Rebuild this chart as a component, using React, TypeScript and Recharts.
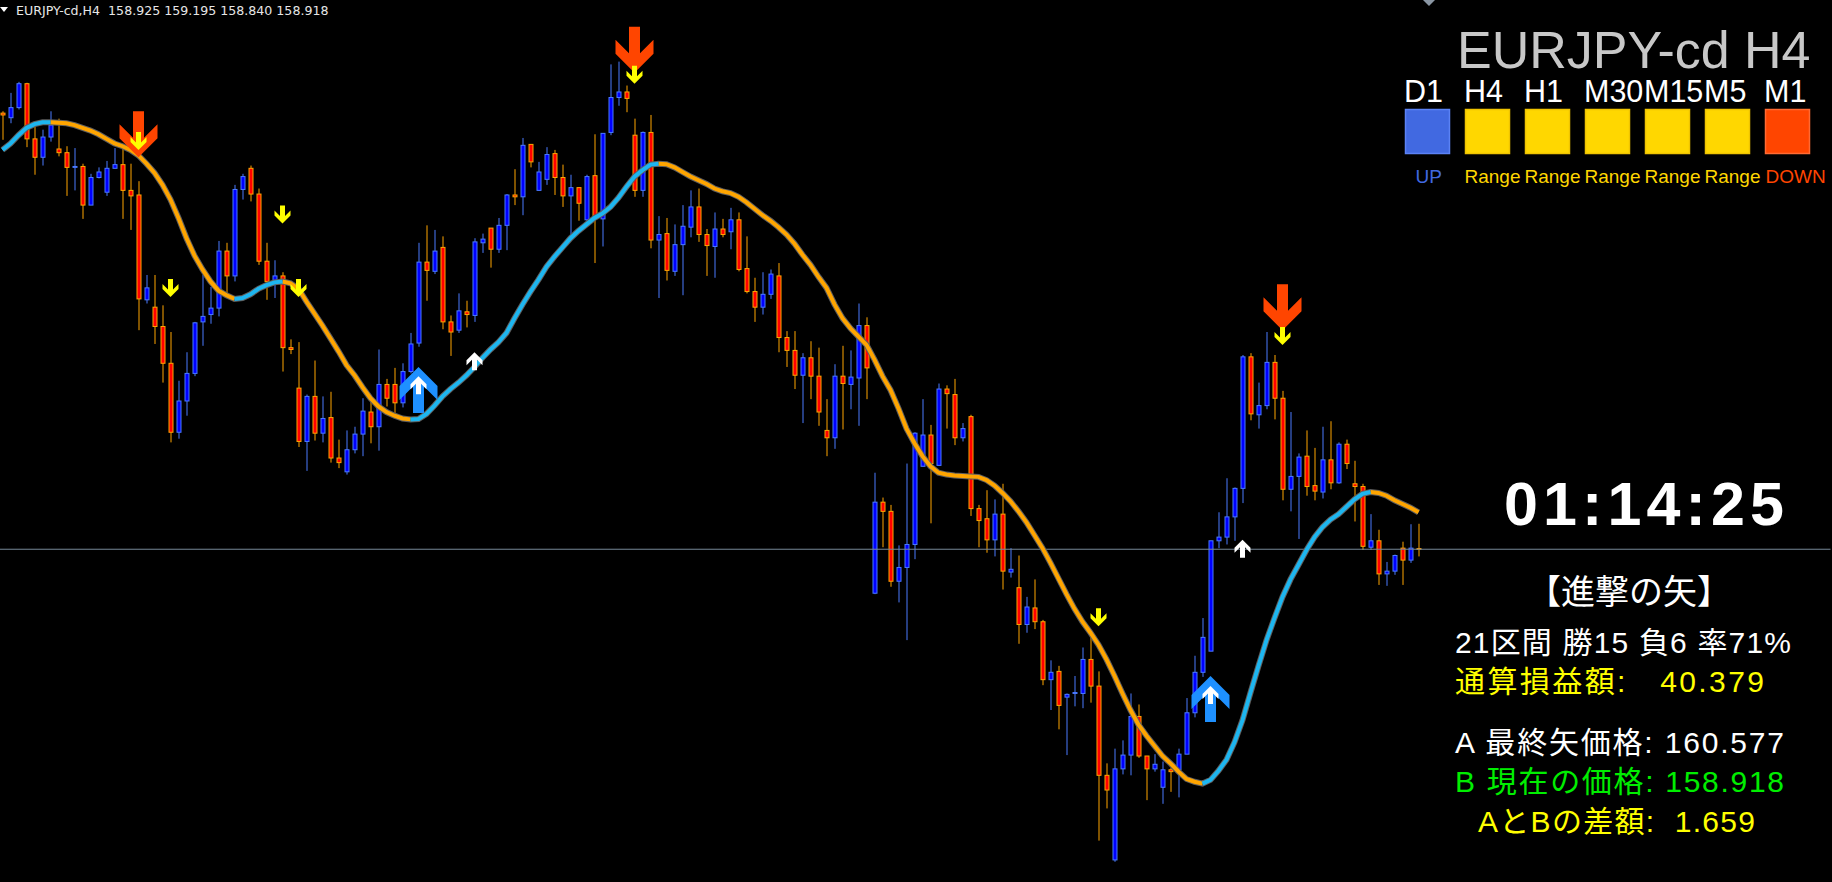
import React from 'react';
import { ComposedChart, Bar, Line, XAxis, YAxis, ReferenceLine } from 'recharts';

const W = 1832;
const H = 882;
const Y_MIN = 155.3;
const Y_MAX = 164.89;
const LAST_PRICE = 158.918;
const SLOT_COUNT = 229;

const opens = [
  163.66, 163.61, 163.72, 163.98, 163.38, 163.18, 163.40, 163.27, 163.23, 163.07,
  163.08, 162.66, 162.96, 162.80, 163.06, 163.10, 162.82, 162.77, 161.63, 161.55,
  161.34, 160.94, 160.19, 160.53, 160.83, 161.39, 161.47, 161.54, 162.16, 161.89,
  162.83, 163.06, 162.78, 162.05, 161.83, 161.89, 161.11, 160.67, 160.09, 160.58,
  160.18, 160.35, 159.91, 159.76, 160.00, 160.17, 160.41, 160.25, 160.71, 160.71,
  160.51, 160.85, 161.16, 162.04, 161.94, 162.20, 161.39, 161.30, 161.50, 161.46,
  162.25, 162.41, 162.18, 162.44, 162.77, 162.75, 163.32, 162.82, 162.94, 163.22,
  162.96, 162.76, 162.85, 162.50, 162.98, 162.51, 163.45, 163.83, 163.89, 163.42,
  162.82, 163.45, 162.28, 162.35, 161.94, 162.23, 162.42, 162.64, 162.34, 162.21,
  162.40, 162.37, 162.50, 161.97, 161.72, 161.55, 161.69, 161.89, 161.22, 161.08,
  160.81, 161.00, 160.80, 160.21, 160.13, 160.80, 160.71, 160.78, 161.35, 158.44,
  159.43, 159.33, 158.57, 158.72, 158.97, 159.82, 160.16, 159.83, 160.66, 160.60,
  160.13, 160.36, 159.36, 159.25, 159.02, 159.30, 158.67, 158.50, 158.10, 158.28,
  158.13, 157.50, 157.59, 157.31, 157.35, 157.35, 157.72, 157.43, 156.46, 155.54,
  156.53, 156.68, 157.10, 156.67, 156.53, 156.33, 156.52, 156.52, 156.69, 157.14,
  157.58, 157.81, 159.01, 159.05, 159.27, 159.58, 161.01, 160.38, 160.48, 160.95,
  160.56, 159.57, 159.71, 159.93, 159.61, 159.54, 159.89, 159.64, 160.06, 159.63,
  159.60, 158.94, 159.01, 158.65, 158.68, 158.93, 158.80, 158.925,
];

const highs = [
  163.68, 163.88, 164.00, 163.99, 163.56, 163.48, 163.68, 163.60, 163.30, 163.28,
  163.11, 163.00, 163.07, 163.14, 163.28, 163.28, 163.11, 162.92, 161.90, 161.90,
  161.57, 161.28, 160.75, 161.06, 161.39, 161.90, 161.77, 162.27, 162.25, 162.88,
  163.00, 163.09, 162.84, 162.25, 162.06, 161.93, 161.20, 161.17, 160.60, 160.97,
  160.58, 160.63, 160.11, 160.21, 160.25, 160.56, 160.53, 161.09, 160.77, 160.89,
  160.94, 161.27, 162.25, 162.44, 162.39, 162.32, 161.46, 161.70, 161.62, 162.30,
  162.35, 162.41, 162.52, 162.78, 163.05, 163.39, 163.32, 163.13, 163.29, 163.26,
  163.10, 162.99, 162.85, 162.99, 163.43, 163.44, 164.19, 164.22, 163.96, 163.60,
  163.46, 163.64, 162.54, 162.52, 162.45, 162.66, 162.82, 162.84, 162.40, 162.58,
  162.51, 162.63, 162.58, 162.32, 161.87, 161.93, 161.96, 162.03, 161.29, 161.29,
  161.05, 161.18, 161.11, 160.55, 160.93, 161.13, 161.08, 161.59, 161.44, 159.75,
  159.48, 159.40, 158.96, 159.85, 160.19, 160.55, 160.27, 160.72, 160.70, 160.77,
  160.29, 160.38, 159.40, 159.56, 159.46, 159.63, 158.93, 158.85, 158.40, 158.59,
  158.15, 157.71, 157.65, 157.35, 157.54, 157.85, 157.97, 157.59, 156.59, 156.75,
  156.84, 157.35, 157.23, 156.67, 156.69, 156.61, 156.54, 156.75, 157.30, 157.76,
  158.17, 159.01, 159.32, 159.69, 159.59, 161.03, 161.05, 160.73, 161.28, 161.03,
  160.64, 160.41, 159.96, 160.21, 160.02, 160.25, 160.31, 160.08, 160.11, 159.88,
  159.63, 159.30, 159.13, 158.78, 158.86, 159.00, 159.19, 159.195,
];

const lows = [
  163.37, 163.55, 163.70, 163.29, 162.99, 163.09, 163.35, 163.19, 162.76, 162.82,
  162.51, 162.66, 162.95, 162.76, 163.06, 162.51, 162.39, 161.30, 161.59, 161.15,
  160.73, 160.08, 160.12, 160.37, 160.80, 161.13, 161.37, 161.45, 161.70, 161.83,
  162.72, 162.70, 162.01, 161.63, 161.65, 160.85, 161.04, 160.03, 159.77, 160.10,
  160.08, 159.86, 159.80, 159.73, 159.96, 159.93, 160.07, 159.99, 160.47, 160.40,
  160.46, 160.83, 161.12, 161.62, 161.91, 161.31, 161.02, 161.27, 161.33, 161.39,
  162.14, 161.98, 162.14, 162.17, 162.66, 162.55, 163.07, 162.82, 162.88, 162.77,
  162.64, 162.34, 162.49, 162.48, 162.03, 162.21, 163.42, 163.74, 163.67, 162.75,
  162.75, 162.19, 161.65, 161.84, 161.89, 161.68, 162.31, 162.26, 161.89, 161.87,
  162.31, 162.18, 161.94, 161.70, 161.39, 161.47, 161.64, 161.06, 160.90, 160.66,
  160.29, 160.55, 160.26, 159.93, 160.01, 160.22, 160.44, 160.26, 160.55, 158.43,
  158.94, 158.51, 158.34, 157.93, 158.81, 159.82, 159.20, 159.83, 160.23, 160.05,
  160.09, 159.28, 158.94, 158.88, 158.84, 158.48, 158.61, 157.89, 158.01, 158.05,
  157.44, 157.17, 156.96, 156.68, 157.21, 157.19, 157.25, 155.75, 156.10, 155.52,
  156.47, 156.46, 156.65, 156.19, 156.50, 156.15, 156.28, 156.22, 156.69, 157.09,
  157.53, 157.81, 158.93, 158.97, 159.01, 159.42, 160.32, 160.23, 160.44, 160.33,
  159.45, 159.33, 159.03, 159.50, 159.45, 159.47, 159.57, 159.63, 159.79, 159.22,
  158.91, 158.91, 158.53, 158.52, 158.64, 158.53, 158.77, 158.84,
];

const closes = [
  163.64, 163.72, 163.98, 163.38, 163.18, 163.40, 163.53, 163.23, 163.07, 163.08,
  162.66, 162.96, 163.02, 163.06, 163.10, 162.82, 162.76, 161.64, 161.76, 161.34,
  160.94, 160.19, 160.53, 160.83, 161.38, 161.45, 161.54, 162.16, 161.89, 162.83,
  162.97, 162.78, 162.05, 161.83, 161.89, 161.11, 161.09, 160.09, 160.58, 160.18,
  160.34, 159.91, 159.86, 160.00, 160.17, 160.42, 160.25, 160.71, 160.56, 160.51,
  160.85, 161.15, 162.04, 161.95, 162.16, 161.39, 161.28, 161.51, 161.47, 162.26,
  162.29, 162.18, 162.44, 162.77, 162.75, 163.31, 163.13, 163.02, 163.21, 162.96,
  162.76, 162.85, 162.68, 162.97, 162.53, 163.44, 163.83, 163.89, 163.82, 162.82,
  163.45, 162.28, 162.34, 161.95, 162.23, 162.43, 162.64, 162.34, 162.22, 162.40,
  162.34, 162.50, 161.96, 161.72, 161.55, 161.69, 161.91, 161.22, 161.08, 160.81,
  161.00, 160.80, 160.41, 160.13, 160.80, 160.72, 160.79, 161.35, 160.89, 159.43,
  159.33, 158.57, 158.72, 158.97, 160.18, 160.16, 159.85, 160.66, 160.61, 160.13,
  160.23, 159.36, 159.23, 159.02, 159.30, 158.68, 158.70, 158.10, 158.29, 158.13,
  157.50, 157.58, 157.22, 157.34, 157.36, 157.72, 157.43, 156.46, 156.30, 156.53,
  156.68, 157.10, 156.67, 156.53, 156.58, 156.52, 156.50, 156.69, 157.14, 157.58,
  157.96, 159.01, 159.05, 159.27, 159.58, 161.01, 160.39, 160.48, 160.95, 160.56,
  159.57, 159.71, 159.92, 159.60, 159.55, 159.89, 159.64, 160.06, 159.85, 159.60,
  158.95, 159.01, 158.65, 158.68, 158.85, 158.80, 158.93, 158.918,
];

const maLine = [
  163.26, 163.33, 163.42, 163.50, 163.54, 163.56, 163.56, 163.555, 163.55, 163.53,
  163.50, 163.47, 163.43, 163.38, 163.33, 163.30, 163.26, 163.20, 163.11, 163.01,
  162.88, 162.72, 162.52, 162.30, 162.11, 161.96, 161.83, 161.73, 161.68, 161.64,
  161.65, 161.69, 161.75, 161.79, 161.82, 161.83, 161.81, 161.75, 161.61, 161.48,
  161.35, 161.21, 161.07, 160.92, 160.81, 160.68, 160.56, 160.47, 160.41, 160.37,
  160.34, 160.33, 160.335, 160.39, 160.48, 160.58, 160.66, 160.73, 160.81, 160.90,
  161.00, 161.09, 161.17, 161.27, 161.43, 161.58, 161.72, 161.85, 161.99, 162.10,
  162.20, 162.30, 162.38, 162.45, 162.52, 162.57, 162.64, 162.74, 162.86, 162.97,
  163.04, 163.10, 163.11, 163.105, 163.07, 163.02, 162.97, 162.93, 162.89, 162.84,
  162.81, 162.79, 162.75, 162.69, 162.62, 162.55, 162.49, 162.42, 162.34, 162.24,
  162.12, 162.01, 161.88, 161.76, 161.58, 161.43, 161.32, 161.23, 161.14, 160.98,
  160.80, 160.65, 160.45, 160.23, 160.07, 159.93, 159.82, 159.75, 159.73, 159.72,
  159.715, 159.71, 159.705, 159.67, 159.61, 159.53, 159.44, 159.33, 159.21, 159.07,
  158.93, 158.77, 158.60, 158.43, 158.27, 158.13, 158.01, 157.88, 157.72, 157.54,
  157.35, 157.17, 157.01, 156.89, 156.78, 156.67, 156.59, 156.50, 156.42, 156.39,
  156.37, 156.41, 156.51, 156.63, 156.82, 157.06, 157.36, 157.65, 157.93, 158.17,
  158.40, 158.59, 158.75, 158.91, 159.05, 159.16, 159.24, 159.30, 159.38, 159.46,
  159.52, 159.54, 159.53, 159.50, 159.45, 159.41, 159.37, 159.32,
];

const bigDownIdx = [17, 79, 160];
const bigDownTip = [163.18, 164.1, 161.3];
const yellowDownIdx = [17, 21, 35, 37, 79, 137, 160];
const yellowDownTip = [163.26, 161.66, 162.46, 161.66, 163.98, 158.08, 161.14];
const bigUpIdx = [52, 151];
const bigUpTip = [160.9, 157.54];
const whiteUpIdx = [52, 59, 151, 155];
const whiteUpTip = [160.8, 161.06, 157.43, 159.02];

const tfLabels = ['D1', 'H4', 'H1', 'M30', 'M15', 'M5', 'M1'];
const tfStatus = ['UP', 'Range', 'Range', 'Range', 'Range', 'Range', 'DOWN'];

// trend direction of the moving line (1 rising, -1 falling)
const dirs: number[] = [];
maLine.forEach((v, i) => {
  if (i === 0) { dirs.push(0); return; }
  const prev = maLine[i - 1];
  if (v > prev) dirs.push(1);
  else if (v < prev) dirs.push(-1);
  else dirs.push(dirs[i - 1]);
});
dirs[0] = dirs[1];

const pick = (idx: number[], vals: number[], i: number) => {
  const k = idx.indexOf(i);
  return k >= 0 ? vals[k] : null;
};

const rows = Array.from({ length: SLOT_COUNT }, (_, i) => {
  const has = i < opens.length;
  return {
    slot: i,
    o: has ? opens[i] : null,
    h: has ? highs[i] : null,
    l: has ? lows[i] : null,
    c: has ? closes[i] : null,
    ma: has ? maLine[i] : null,
    maUp: has && (dirs[i] === 1 || dirs[i + 1] === 1) ? maLine[i] : null,
    maDown: has && (dirs[i] === -1 || dirs[i + 1] === -1) ? maLine[i] : null,
    bigDown: pick(bigDownIdx, bigDownTip, i),
    yellowDown: pick(yellowDownIdx, yellowDownTip, i),
    bigUp: pick(bigUpIdx, bigUpTip, i),
    whiteUp: pick(whiteUpIdx, whiteUpTip, i),
  };
});

const renderCandle = (props: any) => {
  const p = props.payload ?? rows[props.index];
  if (!p || p.o == null) return <g />;
  const { o, h, l, c } = p;
  const y0 = Number(props.y);
  const hh = Number(props.height);
  const top = Math.min(y0, y0 + hh);
  const bot = Math.max(y0, y0 + hh);
  const span = h - l;
  const toY = (v: number) => (span > 0 ? top + ((h - v) / span) * (bot - top) : top);
  const cx = Number(props.x) + Number(props.width) / 2;
  const up = c >= o;
  const yo = toY(o);
  const yc = toY(c);
  const bt = Math.min(yo, yc);
  const bb = Math.max(yo, yc);
  const edge = up ? '#4a7aff' : '#FFA500';
  const fill = up ? '#0000FF' : '#FF0000';
  return (
    <g>
      <line x1={cx} x2={cx} y1={top} y2={bot} stroke={edge} strokeWidth={1} />
      <rect x={cx - 2} y={bt} width={4} height={Math.max(bb - bt, 0.6)} fill={fill} stroke={edge} strokeWidth={1} />
    </g>
  );
};

const arrowPts = (big: boolean, down: boolean) => {
  const s = down ? -1 : 1;
  const pts = big
    ? [[-5.5, 46], [5.5, 46], [5.5, 19.5], [19, 33], [19, 19], [0, 0], [-19, 19], [-19, 33], [-5.5, 19.5]]
    : [[-2.5, 18], [2.5, 18], [2.5, 7.5], [8, 13], [8, 8], [0, 0], [-8, 8], [-8, 13], [-2.5, 7.5]];
  return pts.map(([x, y]) => [x, y * s]);
};

const makeArrow = (big: boolean, down: boolean, color: string, name: string) => (props: any) => {
  const { cx, cy, value, index } = props;
  if (value == null || cx == null || cy == null || isNaN(cy)) return <g key={`${name}-${index}`} />;
  const pts = arrowPts(big, down).map(([x, y]) => `${cx + x},${cy + y}`).join(' ');
  return <polygon key={`${name}-${index}`} points={pts} fill={color} />;
};

const dotBigDown = makeArrow(true, true, '#FF4500', 'bd');
const dotYellow = makeArrow(false, true, '#FFFF00', 'yd');
const dotBigUp = makeArrow(true, false, '#1E90FF', 'bu');
const dotWhite = makeArrow(false, false, '#FFFFFF', 'wu');

const jpFont = "'Liberation Sans', 'Noto Sans CJK JP', sans-serif";

export default function App() {
  return (
    <div style={{ position: 'absolute', left: 0, top: 0, width: W, height: H, background: '#000', overflow: 'hidden' }}>
      <ComposedChart width={W} height={H} data={rows} margin={{ top: 0, right: 1.5, bottom: 0, left: -1.5 }}>
        <XAxis dataKey="slot" type="category" hide />
        <YAxis type="number" domain={[Y_MIN, Y_MAX]} hide allowDataOverflow />
        <ReferenceLine y={LAST_PRICE} stroke="#778899" strokeWidth={1} />
        <Bar dataKey={(d: any) => (d.h == null ? null : [d.l, d.h])} barSize={5} shape={renderCandle} isAnimationActive={false} />
        <Line dataKey="ma" type="linear" stroke="#5e5e5e" strokeWidth={6} dot={false} activeDot={false} isAnimationActive={false} />
        <Line dataKey="maDown" type="linear" stroke="#FFA500" strokeWidth={4} dot={false} activeDot={false} isAnimationActive={false} />
        <Line dataKey="maUp" type="linear" stroke="#1DB6F0" strokeWidth={4} dot={false} activeDot={false} isAnimationActive={false} />
        <Line dataKey="bigDown" stroke="none" dot={dotBigDown} activeDot={false} isAnimationActive={false} />
        <Line dataKey="bigUp" stroke="none" dot={dotBigUp} activeDot={false} isAnimationActive={false} />
        <Line dataKey="yellowDown" stroke="none" dot={dotYellow} activeDot={false} isAnimationActive={false} />
        <Line dataKey="whiteUp" stroke="none" dot={dotWhite} activeDot={false} isAnimationActive={false} />
      </ComposedChart>
      <svg width={W} height={H} style={{ position: 'absolute', left: 0, top: 0, pointerEvents: 'none' }}>
        <polygon points="0,7 8,7 4,12" fill="#ffffff" />
        <text x={16} y={15} fontFamily="'DejaVu Sans', sans-serif" fontSize={12.6} fill="#e6e6e6" style={{ whiteSpace: 'pre' }}>
          {'EURJPY-cd,H4  158.925 159.195 158.840 158.918'}
        </text>
        <polygon points="1423,0 1435,0 1429,6" fill="#8a96a3" />
        <text x={1457} y={68} fontFamily="'Liberation Sans', Arial, sans-serif" fontSize={52} fill="#c8c8c8">
          EURJPY-cd H4
        </text>
        {tfLabels.map((t, k) => (
          <text key={t} x={1404 + 60 * k} y={102} fontFamily="'Liberation Sans', Arial, sans-serif" fontSize={30.5} fill="#ffffff">
            {t}
          </text>
        ))}
        {tfStatus.map((s, k) => {
          const fill = s === 'UP' ? '#4169E1' : s === 'DOWN' ? '#FF4500' : '#FFD700';
          const stroke = s === 'UP' ? '#5b82f5' : s === 'DOWN' ? '#ff6a33' : '#f0c400';
          return <rect key={`sq${k}`} x={1405.5 + 60 * k} y={109.5} width={44} height={44} fill={fill} stroke={stroke} strokeWidth={1.5} />;
        })}
        {tfStatus.map((s, k) => {
          const fill = s === 'UP' ? '#4169E1' : s === 'DOWN' ? '#FF4500' : '#FFD700';
          const x = s === 'UP' ? 1415.5 : s === 'DOWN' ? 1765.5 : 1404.5 + 60 * k;
          return (
            <text key={`st${k}`} x={x} y={183} fontFamily="'Liberation Sans', Arial, sans-serif" fontSize={19} fill={fill}>
              {s}
            </text>
          );
        })}
        <text x={1504} y={525} fontFamily="'Liberation Sans', Arial, sans-serif" fontWeight="bold" fontSize={61} fill="#ffffff" textLength={280} lengthAdjust="spacing">
          01:14:25
        </text>
        <text x={1629} y={604} textAnchor="middle" fontFamily={jpFont} fontSize={34} fill="#ffffff">
          【進撃の矢】
        </text>
        <text x={1455} y={653} fontFamily={jpFont} fontSize={30} fill="#ffffff" textLength={336} lengthAdjust="spacing">
          21区間 勝15 負6 率71%
        </text>
        <text x={1455} y={692} fontFamily={jpFont} fontSize={30} fill="#FFFF00" textLength={309} lengthAdjust="spacing" style={{ whiteSpace: 'pre' }}>
          {'通算損益額:   40.379'}
        </text>
        <text x={1455} y={753} fontFamily={jpFont} fontSize={30} fill="#ffffff" textLength={329} lengthAdjust="spacing">
          A 最終矢価格: 160.577
        </text>
        <text x={1455} y={792} fontFamily={jpFont} fontSize={30} fill="#00EE00" textLength={329} lengthAdjust="spacing">
          B 現在の価格: 158.918
        </text>
        <text x={1478} y={832} fontFamily={jpFont} fontSize={30} fill="#FFFF00" textLength={277} lengthAdjust="spacing" style={{ whiteSpace: 'pre' }}>
          {'AとBの差額:  1.659'}
        </text>
      </svg>
    </div>
  );
}
